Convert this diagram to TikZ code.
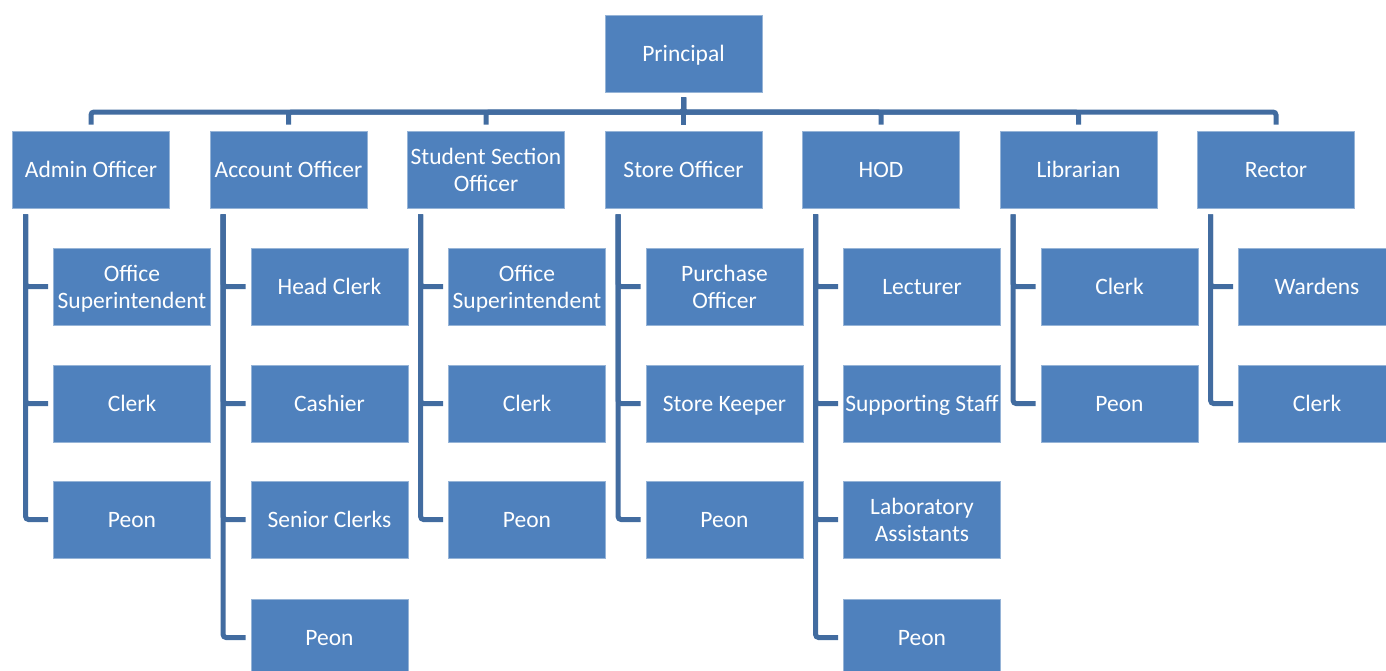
\documentclass[tikz,border=0pt]{standalone}
\usepackage{fontspec}
\setmainfont{Carlito}
\definecolor{boxfill}{RGB}{79,129,189}
\definecolor{boxedge}{RGB}{150,180,215}
\definecolor{linecol}{RGB}{66,108,160}
\begin{document}
\begin{tikzpicture}[x=1pt,y=-1pt,
  box/.style={draw=boxedge,line width=0.8pt,fill=boxfill,text=white,
    minimum width=157pt,minimum height=77pt,inner sep=0pt,align=center,
    text height=16pt,text depth=0pt,
    font=\fontsize{23.5}{27}\selectfont},
  two/.style={text height=43pt,text depth=0pt},
  conn/.style={draw=linecol,line width=5pt,rounded corners=3pt}]
\useasboundingbox (0,0) rectangle (1386,670);
% top
\node[box] (P) at (683.5,53.5) {Principal};
\coordinate (bar) at (683.5,112);
% level 1
\node[box] (A) at (91,169.5) {Admin Officer};
\node[box] (B) at (288.5,169.5) {Account Officer};
\node[box,two] (C) at (486,169.5) {Student Section\\Officer};
\node[box] (D) at (683.5,169.5) {Store Officer};
\node[box] (E) at (881,169.5) {HOD};
\node[box] (F) at (1078.5,169.5) {Librarian};
\node[box] (G) at (1276,169.5) {Rector};
\foreach \k in {A,B,C,D,E,F,G}{
  \draw[conn] ([yshift=-5pt]P.south) -- (P.south |- bar) -| ([yshift=6pt]\k.north);
}
% children
\node[box,two] (A1) at (132,286.5) {Office\\Superintendent};
\node[box] (A2) at (132,403.5) {Clerk};
\node[box] (A3) at (132,519.5) {Peon};
\node[box] (B1) at (329.5,286.5) {Head Clerk};
\node[box] (B2) at (329.5,403.5) {Cashier};
\node[box] (B3) at (329.5,519.5) {Senior Clerks};
\node[box] (B4) at (329.5,637.5) {Peon};
\node[box,two] (C1) at (527,286.5) {Office\\Superintendent};
\node[box] (C2) at (527,403.5) {Clerk};
\node[box] (C3) at (527,519.5) {Peon};
\node[box,two] (D1) at (724.5,286.5) {Purchase\\Officer};
\node[box] (D2) at (724.5,403.5) {Store Keeper};
\node[box] (D3) at (724.5,519.5) {Peon};
\node[box] (E1) at (922,286.5) {Lecturer};
\node[box] (E2) at (922,403.5) {Supporting Staff};
\node[box,two] (E3) at (922,519.5) {Laboratory\\Assistants};
\node[box] (E4) at (922,637.5) {Peon};
\node[box] (F1) at (1119.5,286.5) {Clerk};
\node[box] (F2) at (1119.5,403.5) {Peon};
\node[box] (G1) at (1317,286.5) {Wardens};
\node[box] (G2) at (1317,403.5) {Clerk};
\foreach \p/\c in {A/A1,A/A2,A/A3,B/B1,B/B2,B/B3,B/B4,C/C1,C/C2,C/C3,
  D/D1,D/D2,D/D3,E/E1,E/E2,E/E3,E/E4,F/F1,F/F2,G/G1,G/G2}{
  \draw[conn] ([xshift=13.5pt,yshift=-6pt]\p.south west) |- ([xshift=-5pt]\c.west);
}
\end{tikzpicture}
\end{document}
